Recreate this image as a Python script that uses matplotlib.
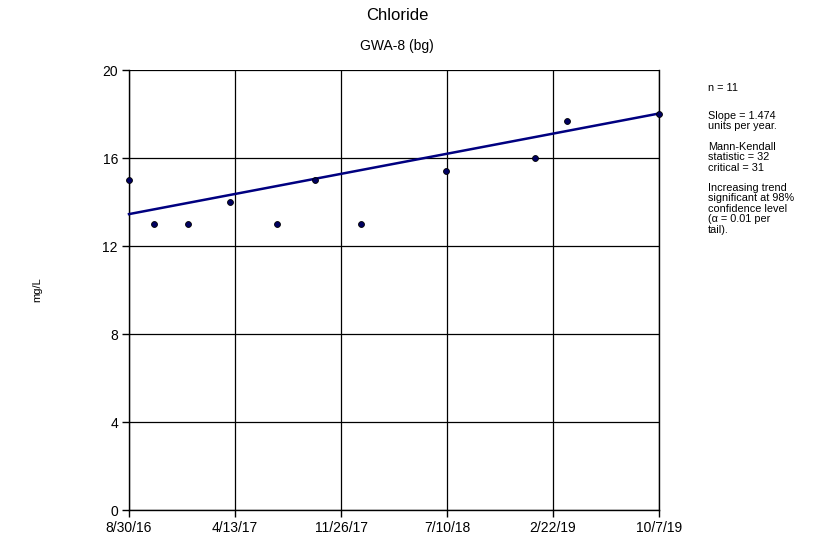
import matplotlib
matplotlib.use("Agg")
import matplotlib.pyplot as plt
import matplotlib.dates as mdates
import datetime as dt

plt.rcParams['font.family'] = ['Liberation Sans', 'DejaVu Sans']

# Data
sample_dates = ["2016-08-30", "2016-10-22", "2017-01-03", "2017-04-03", "2017-07-12",
                "2017-10-01", "2018-01-09", "2018-07-08", "2019-01-15", "2019-03-25",
                "2019-10-07"]
chloride = [15.0, 13.0, 13.0, 14.0, 13.0, 15.0, 13.0, 15.4, 16.0, 17.7, 18.0]
tick_labels = ["8/30/16", "4/13/17", "11/26/17", "7/10/18", "2/22/19", "10/7/19"]
y_ticks = [0, 4, 8, 12, 16, 20]
trend_start_value = 13.45
slope_per_year = 1.474

dates = [dt.datetime.strptime(d, "%Y-%m-%d") for d in sample_dates]
x = mdates.date2num(dates)

fig = plt.figure(figsize=(8.29, 5.44), dpi=100)
ax = fig.add_axes([129/829, 34/544, 530/829, 440/544])

x0, x1 = x[0], x[-1]
tick_pos = [x0 + i * (x1 - x0) / 5 for i in range(6)]

# trend line
tx = [x0, x1]
ty = [trend_start_value, trend_start_value + slope_per_year * (x1 - x0) / 365.25]
ax.plot(tx, ty, color="#000080", lw=1.8, zorder=3, clip_on=False)
ax.scatter(x, chloride, s=18, color="#000060", edgecolor="black", linewidth=0.6,
           zorder=4, clip_on=False)

ax.set_xlim(x0, x1)
ax.set_ylim(0, 20)
ax.set_xticks(tick_pos)
ax.set_xticklabels(tick_labels, fontsize=10)
ax.set_yticks(y_ticks)
ax.set_yticklabels([str(v) for v in y_ticks], fontsize=10)
ax.grid(True, color="black", lw=0.9)
ax.set_axisbelow(True)
ax.spines["top"].set_visible(False)
for s in ["left", "bottom", "right"]:
    ax.spines[s].set_linewidth(1.0)
    ax.spines[s].set_color("black")
ax.tick_params(axis="both", direction="out", length=5, width=1, pad=3)

fig.text(397/829, 1 - 15/544, "Chloride", ha="center", va="center", fontsize=12)
fig.text(397/829, 1 - 46/544, "GWA-8 (bg)", ha="center", va="center", fontsize=10)
fig.text(37/829, 1 - 290/544, "mg/L", rotation=90, ha="center", va="center", fontsize=8)

paragraphs = [
    (88, "n = 11"),
    (116, "Slope = 1.474\nunits per year."),
    (147, "Mann-Kendall\nstatistic = 32\ncritical = 31"),
    (188, "Increasing trend\nsignificant at 98%\nconfidence level\n(\u03b1 = 0.01 per\ntail)."),
]
for ypix, txt in paragraphs:
    fig.text(708/829, 1 - (ypix - 5)/544, txt, ha="left", va="top", fontsize=7.8,
             linespacing=1.05)

fig.savefig("out.png", dpi=100)
